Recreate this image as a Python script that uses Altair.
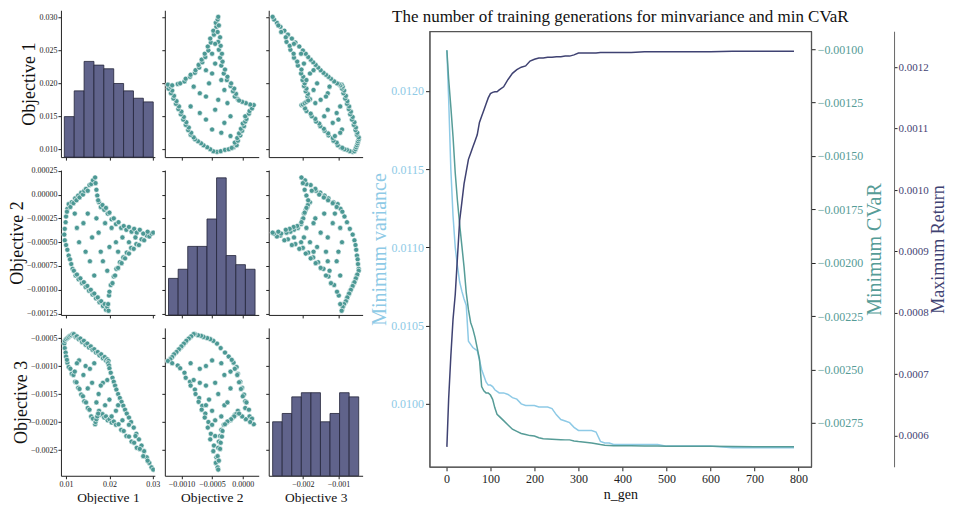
import altair as alt
import pandas as pd

FONT = "Liberation Serif"
LB = "#8ecae6"
TEAL = "#569c97"
NAVY = "#3f4272"
DOT = "#4b9894"
BAR = "#60638b"
TITLE = "The number of training generations for minvariance and min CVaR"

# ---------------- pair plot data (Pareto solutions) ----------------
obj1 = [0.0103, 0.0106, 0.0110, 0.0113, 0.0117, 0.0121, 0.0124, 0.0128, 0.0131, 0.0135,
        0.0139, 0.0142, 0.0146, 0.0150, 0.0154, 0.0158, 0.0162, 0.0167,
        0.0096, 0.0097, 0.0099, 0.0100, 0.0102,
        0.0097, 0.0100, 0.0103, 0.0106, 0.0109, 0.0112, 0.0115,
        0.0118, 0.0122, 0.0125, 0.0129, 0.0133, 0.0137, 0.0141, 0.0145, 0.0149, 0.0153,
        0.0157, 0.0161, 0.0165, 0.0169, 0.0173, 0.0177, 0.0181, 0.0185, 0.0189, 0.0192,
        0.0195, 0.0198,
        0.0197, 0.0199, 0.0200, 0.0203, 0.0207, 0.0210, 0.0213, 0.0216, 0.0220, 0.0224,
        0.0228, 0.0232, 0.0236, 0.0240, 0.0245, 0.0250, 0.0256, 0.0262, 0.0268, 0.0274,
        0.0280, 0.0286, 0.0292, 0.0297,
        0.0176, 0.0180, 0.0184, 0.0188, 0.0192, 0.0196, 0.0200, 0.0205, 0.0210, 0.0215,
        0.0221, 0.0227, 0.0233, 0.0239, 0.0245, 0.0251, 0.0257, 0.0263, 0.0270, 0.0278,
        0.0288, 0.0301,
        0.0168, 0.0170, 0.0172, 0.0174,
        0.0140, 0.0150, 0.0160, 0.0175, 0.0185, 0.0200, 0.0215, 0.0230, 0.0130, 0.0165,
        0.0190, 0.0245,
        0.0145, 0.0170, 0.0180, 0.0205, 0.0220, 0.0125, 0.0155, 0.0195, 0.0260, 0.0120]
obj2 = [-0.00015, -0.00010, -0.00013, -0.00008, -0.00009, -0.00004, -0.00006, -0.00001, -0.00003, 0.00002,
        0.00000, 0.00004, 0.00006, 0.00004, 0.00010, 0.00011, 0.00015, 0.00018,
        -0.00042, -0.00036, -0.00029, -0.00023, -0.00018,
        -0.00048, -0.00053, -0.00058, -0.00064, -0.00068, -0.00073, -0.00078,
        -0.00080, -0.00085, -0.00084, -0.00089, -0.00088, -0.00093, -0.00092, -0.00097, -0.00096, -0.00101,
        -0.00100, -0.00105, -0.00104, -0.00109, -0.00108, -0.00113, -0.00112, -0.00117, -0.00115, -0.00121,
        -0.00118, -0.00122,
        -0.00115, -0.00106, -0.00102, -0.00095, -0.00093, -0.00086, -0.00085, -0.00078, -0.00077, -0.00071,
        -0.00072, -0.00066, -0.00067, -0.00061, -0.00062, -0.00056, -0.00057, -0.00052, -0.00053, -0.00047,
        -0.00048, -0.00043, -0.00044, -0.00041,
        -0.00008, -0.00013, -0.00011, -0.00016, -0.00014, -0.00020, -0.00019, -0.00026, -0.00025, -0.00031,
        -0.00029, -0.00035, -0.00033, -0.00037, -0.00034, -0.00039, -0.00036, -0.00040, -0.00037, -0.00041,
        -0.00039, -0.00040,
        0.00012, 0.00005, -0.00001, -0.00006,
        -0.00030, -0.00020, -0.00045, -0.00040, -0.00070, -0.00055, -0.00050, -0.00045, -0.00050, -0.00085,
        -0.00030, -0.00050,
        -0.00060, -0.00025, -0.00060, -0.00035, -0.00060, -0.00035, -0.00070, -0.00080, -0.00045, -0.00020]
obj3 = [-0.00094, -0.00102, -0.00105, -0.00114, -0.00116, -0.00128, -0.00129, -0.00139, -0.00141, -0.00151,
        -0.00154, -0.00163, -0.00165, -0.00175, -0.00178, -0.00190, -0.00194, -0.00204,
        -0.00060, -0.00068, -0.00076, -0.00083, -0.00089,
        -0.00055, -0.00052, -0.00050, -0.00048, -0.00046, -0.00045, -0.00043,
        -0.00043, -0.00048, -0.00047, -0.00052, -0.00051, -0.00057, -0.00055, -0.00062, -0.00060, -0.00067,
        -0.00065, -0.00071, -0.00070, -0.00076, -0.00075, -0.00081, -0.00079, -0.00086, -0.00084, -0.00090,
        -0.00088, -0.00091,
        -0.00095, -0.00099, -0.00104, -0.00112, -0.00121, -0.00128, -0.00135, -0.00142, -0.00150, -0.00157,
        -0.00164, -0.00171, -0.00178, -0.00185, -0.00192, -0.00200, -0.00210, -0.00221, -0.00231, -0.00242,
        -0.00252, -0.00263, -0.00273, -0.00281,
        -0.00180, -0.00187, -0.00186, -0.00192, -0.00190, -0.00197, -0.00195, -0.00201, -0.00199, -0.00205,
        -0.00204, -0.00214, -0.00216, -0.00225, -0.00226, -0.00235, -0.00237, -0.00246, -0.00248, -0.00261,
        -0.00269, -0.00285,
        -0.00200, -0.00195, -0.00190, -0.00185,
        -0.00116, -0.00140, -0.00130, -0.00150, -0.00130, -0.00160, -0.00180, -0.00197, -0.00090, -0.00095,
        -0.00170, -0.00205,
        -0.00100, -0.00165, -0.00135, -0.00190, -0.00170, -0.00095, -0.00105, -0.00125, -0.00225, -0.00110]

# histogram bins (edges) and counts
hist1_edges = [0.00960, 0.01188, 0.01416, 0.01643, 0.01871, 0.02099, 0.02327, 0.02554, 0.02782, 0.03010]
hist1_counts = [11, 18, 26, 25, 24, 20, 18, 16, 15]
hist2_edges = [-0.00121, -0.001053, -0.000897, -0.00074, -0.000583, -0.000427, -0.00027, -0.000113, 0.000043, 0.00020]
hist2_counts = [8, 10, 15, 15, 21, 30, 13, 11, 10]
hist3_edges = [-0.00285, -0.002581, -0.002312, -0.002043, -0.001774, -0.001506, -0.001237, -0.000968, -0.000699, -0.00043]
hist3_counts = [13, 15, 19, 20, 20, 13, 15, 20, 19]

# ---------------- training history ----------------
n_gen = [1, 5, 10, 15, 20, 25, 30, 35, 40, 45,
         50, 55, 60, 65, 70, 75, 80, 85, 90, 95, 100, 105, 110, 115, 120,
         130, 140, 150, 160, 170, 180, 190, 200, 210, 220, 230, 240, 250, 260, 270,
         280, 290, 300, 310, 320, 330, 340, 350, 360, 370, 380,
         400, 420, 450, 480, 500, 550, 600, 650, 700, 750, 790]
min_variance = [0.01226, 0.01195, 0.01150, 0.01120, 0.01100, 0.01088, 0.01078, 0.01072, 0.01067, 0.01063,
                0.01040, 0.01038, 0.01036, 0.01035, 0.01034, 0.01028, 0.01022, 0.01018, 0.01014, 0.01012,
                0.01012, 0.01011, 0.01009, 0.01008, 0.01007,
                0.01007, 0.01006, 0.01004, 0.01003, 0.01000, 0.00999, 0.00999, 0.00999, 0.00998, 0.00998,
                0.00998, 0.00997, 0.00993, 0.00990, 0.00989,
                0.00988, 0.00985, 0.00983, 0.00983, 0.00983, 0.00983, 0.00982, 0.00976, 0.00975, 0.00975,
                0.00974,
                0.00974, 0.00974, 0.00974, 0.00974, 0.00973, 0.00973, 0.00973, 0.00972, 0.00972, 0.00972,
                0.00972]
min_cvar = [-0.001005, -0.00114, -0.00127, -0.00141, -0.00158, -0.00171, -0.00182, -0.00192, -0.00202, -0.00214,
            -0.00222, -0.00228, -0.00231, -0.00235, -0.00240, -0.00245, -0.00258, -0.00260, -0.00261, -0.00261,
            -0.00262, -0.00264, -0.00268, -0.00271, -0.00272,
            -0.00274, -0.00276, -0.00278, -0.00279, -0.00280, -0.002805, -0.00281, -0.002812, -0.00282, -0.002825,
            -0.002826, -0.002827, -0.002828, -0.002829, -0.00283,
            -0.00283, -0.002835, -0.002838, -0.00284, -0.002842, -0.002845, -0.002848, -0.002852, -0.002855, -0.002856,
            -0.002857,
            -0.002858, -0.002858, -0.002859, -0.002859, -0.00286, -0.00286, -0.00286, -0.002861, -0.002862, -0.002862,
            -0.002862]
max_return = [0.000582, 0.00066, 0.00073, 0.00079, 0.00083, 0.00089, 0.00095, 0.00098, 0.00101, 0.00103,
              0.00105, 0.00106, 0.00107, 0.00108, 0.00109, 0.00111, 0.00112, 0.00113, 0.00114, 0.00115,
              0.001157, 0.001159, 0.00116, 0.00116, 0.001163,
              0.001168, 0.00118, 0.00119, 0.001196, 0.0012, 0.001202, 0.00121, 0.001213, 0.001215, 0.001215,
              0.001216, 0.001216, 0.001217, 0.001217, 0.001218,
              0.001218, 0.00122, 0.001223, 0.001223, 0.001223, 0.001223, 0.001223, 0.001224, 0.001224, 0.001224,
              0.001224,
              0.001224, 0.001224, 0.001225, 0.001225, 0.001225, 0.001225, 0.001225, 0.001226, 0.001226, 0.001226,
              0.001226]

gen_ticks = [0, 100, 200, 300, 400, 500, 600, 700, 800]
var_ticks = [0.0100, 0.0105, 0.0110, 0.0115, 0.0120]
cvar_ticks = [-0.00100, -0.00125, -0.00150, -0.00175, -0.00200, -0.00225, -0.00250, -0.00275]
ret_ticks = [0.0006, 0.0007, 0.0008, 0.0009, 0.0010, 0.0011, 0.0012]

# ---------------- pair plot ----------------
pts = pd.DataFrame({"o1": obj1, "o2": obj2, "o3": obj3})
VARS = ["o1", "o2", "o3"]
NAMES = ["Objective 1", "Objective 2", "Objective 3"]
XDOM = [[0.00882, 0.03047], [-0.00127, 0.00026], [-0.00296, -0.00032]]
YDOM = [[0.0088, 0.0311], [-0.001264, 0.000257], [-0.00296, -0.00032]]
XTICKS = [[0.01, 0.02, 0.03], [-0.001, -0.0005, 0.0], [-0.002, -0.001]]
YTICKS = [[0.010, 0.015, 0.020, 0.025, 0.030],
          [0.00025, 0.0, -0.00025, -0.0005, -0.00075, -0.001, -0.00125],
          [-0.0005, -0.001, -0.0015, -0.002, -0.0025]]
XFMT = [".2f", ".4f", ".3f"]
YFMT = [".3f", ".5f", ".4f"]
PW = 94
HEIGHTS = [147, 145, 148]
HEDGES = [hist1_edges, hist2_edges, hist3_edges]
HCOUNTS = [hist1_counts, hist2_counts, hist3_counts]
HMAX = [39.9, 31.7, 35.6]


def xaxis(i, j):
    bottom = i == 2
    return alt.Axis(values=XTICKS[j], format=XFMT[j], labels=bottom,
                    title=NAMES[j] if bottom else "", labelFontSize=8, titleFontSize=13.5,
                    titlePadding=2, tickSize=3, labelPadding=1.5, labelFlush=False,
                    labelOverlap=False, grid=False)


def yaxis(i, j):
    left = j == 0
    return alt.Axis(values=YTICKS[i], format=YFMT[i], labels=left,
                    title=NAMES[i] if left else "", labelFontSize=8, titleFontSize=18,
                    titlePadding=0, tickSize=3, labelPadding=1, labelOverlap=False,
                    labelFlush=False, grid=False)


def panel(i, j):
    xs = alt.Scale(domain=XDOM[j], nice=False, zero=False)
    ys = alt.Scale(domain=YDOM[i], nice=False, zero=False)
    if i != j:
        return alt.Chart(pts).mark_circle(size=26, color=DOT, opacity=1, stroke="white",
                                          strokeWidth=0.6, clip=True).encode(
            x=alt.X(f"{VARS[j]}:Q", scale=xs, axis=xaxis(i, j)),
            y=alt.Y(f"{VARS[i]}:Q", scale=ys, axis=yaxis(i, j)),
        ).properties(width=PW, height=HEIGHTS[i])
    e = HEDGES[i]
    hd = pd.DataFrame({"lo": e[:-1], "hi": e[1:], "count": HCOUNTS[i],
                       "base": [0] * len(HCOUNTS[i])})
    frame = alt.Chart(pts).mark_point(opacity=0).encode(
        x=alt.X(f"{VARS[j]}:Q", scale=xs, axis=xaxis(i, j)),
        y=alt.Y(f"{VARS[i]}:Q", scale=ys, axis=yaxis(i, j)),
    )
    bars = alt.Chart(hd).mark_rect(color=BAR, stroke="#23243a", strokeWidth=0.8, opacity=1).encode(
        x=alt.X("lo:Q", scale=xs, axis=xaxis(i, j)),
        x2="hi:Q",
        y=alt.Y("count:Q", scale=alt.Scale(domain=[0, HMAX[i]], nice=False, zero=True), axis=None),
        y2="base:Q",
    )
    return alt.layer(frame, bars).resolve_scale(y="independent").properties(
        width=PW, height=HEIGHTS[i])


pair = alt.concat(*[panel(i, j) for i in range(3) for j in range(3)], columns=3,
                  spacing={"row": 13, "column": 10}, bounds="flush")

# ---------------- training chart ----------------
MW = 382
hist_df = pd.DataFrame({"n_gen": n_gen, "var": min_variance, "cvar": min_cvar, "ret": max_return})
xenc = alt.X("n_gen:Q", scale=alt.Scale(domain=[-38.4, 829], nice=False, zero=False),
             axis=alt.Axis(values=gen_ticks, title="n_gen", labelFontSize=12, titleFontSize=14,
                           tickSize=4, labelPadding=3, titlePadding=3, labelFlush=False,
                           grid=False, domainColor="#555"))
base = alt.Chart(hist_df).encode(x=xenc)
l1 = base.mark_line(color=LB, strokeWidth=1.5).encode(
    y=alt.Y("var:Q", scale=alt.Scale(domain=[0.009598, 0.012381], nice=False, zero=False),
            axis=alt.Axis(orient="left", values=var_ticks, format=".4f", title="Minimum variance",
                          labelColor=LB, titleColor=LB, labelFontSize=12, titleFontSize=20,
                          titlePadding=1, tickSize=4, labelPadding=2, grid=False,
                          labelFlush=False, domainColor="#555")))
l2 = base.mark_line(color=TEAL, strokeWidth=1.5).encode(
    y=alt.Y("cvar:Q", scale=alt.Scale(domain=[-0.002956, -0.000916], nice=False, zero=False),
            axis=alt.Axis(orient="right", values=cvar_ticks, format=".5f", title="Minimum CVaR",
                          labelColor=TEAL, titleColor=TEAL, labelFontSize=12, titleFontSize=20,
                          titleAngle=270, titleBaseline="top", titlePadding=2, tickSize=4,
                          labelPadding=2, grid=False, labelFlush=False, domainColor="#555")))
l3 = base.mark_line(color=NAVY, strokeWidth=1.5).encode(
    y=alt.Y("ret:Q", scale=alt.Scale(domain=[0.00054959, 0.0012585], nice=False, zero=False),
            axis=alt.Axis(orient="right", offset=83, values=ret_ticks, format=".4f",
                          title="Maximum Return", labelColor=NAVY, titleColor=NAVY,
                          labelFontSize=11, titleFontSize=18, titleAngle=270, titleBaseline="top",
                          titlePadding=1, tickSize=3, labelPadding=1, grid=False,
                          labelFlush=False, domainColor="#666")))
main = alt.layer(l1, l2, l3).resolve_scale(y="independent").properties(
    width=MW, height=436,
    view=alt.ViewBackground(stroke="#555", strokeWidth=1.2),
)
title_row = alt.Chart(pd.DataFrame({"t": [TITLE]})).mark_text(
    font=FONT, fontSize=17, color="#111", align="center", baseline="middle"
).encode(text="t:N", x=alt.value(MW / 2), y=alt.value(7)).properties(width=MW, height=14)
main_box = alt.vconcat(title_row, main, spacing=5)

chart = alt.hconcat(pair, main_box, spacing=6).properties(padding=0).configure_view(
    strokeWidth=0
).configure_axis(
    labelFont=FONT, titleFont=FONT, labelColor="#222", titleColor="#111",
    tickColor="#222", domainColor="#222", titleFontWeight="normal", grid=False
).configure_title(font=FONT)

chart.save("out.html", embed_options={"renderer": "svg", "actions": False})
